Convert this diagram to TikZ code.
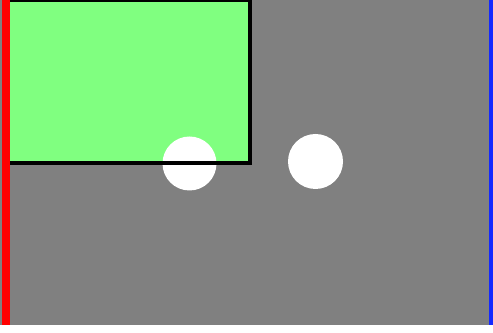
\documentclass[tikz,border=0pt]{standalone}
\usepackage{xcolor}
\definecolor{scenegray}{RGB}{128, 128, 128}
\definecolor{scenegreen}{RGB}{128, 255, 128}
\definecolor{scenered}{RGB}{255, 0, 0}
\definecolor{sceneblue}{RGB}{20, 40, 255}

\begin{document}
\begin{tikzpicture}[x=0.02cm, y=-0.02cm,
    wall/.style={line width=8*0.02cm},
    region/.style={draw=black, line width=4.5*0.02cm, fill=scenegreen},
    ball/.style={fill=white, draw=none}
]
\useasboundingbox (0, 0) rectangle (493, 333);

% === Fondo ===
\fill[scenegray] (0, 0) rectangle (493, 325);

% === Region verde ===
\fill[scenegreen] (10, 0) rectangle (250, 163);
\fill[ball] (189.5, 163.5) circle (27);
\draw[region, fill=none] (10, 0) -- (250, 0) -- (250, 163) -- (10, 163);

% === Circulos ===
\fill[ball] (315.5, 161.5) circle (27.5);

% === Paredes laterales ===
\draw[wall, scenered] (6, 0) -- (6, 325);
\draw[wall, line width=4*0.02cm, sceneblue] (491, 0) -- (491, 325);
\end{tikzpicture}
\end{document}
